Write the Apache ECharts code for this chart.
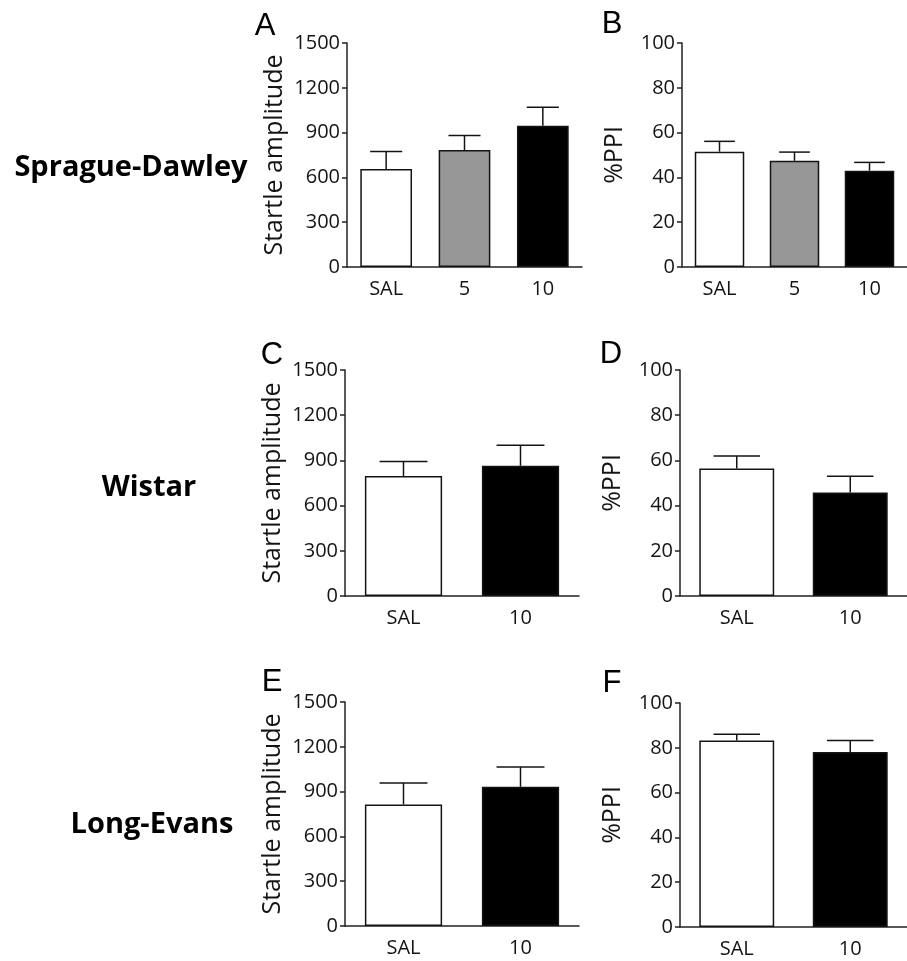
<!DOCTYPE html>
<html>
<head>
<meta charset="utf-8">
<script src="https://cdn.jsdelivr.net/npm/echarts@6/dist/echarts.min.js"></script>
<style>
html,body{margin:0;padding:0;background:#fff;}
#chart{width:907px;height:961px;}
</style>
</head>
<body>
<div id="chart"></div>
<script>
// ---- Data ----
const strains = ['Sprague-Dawley', 'Wistar', 'Long-Evans'];
const panelLetters = ['A', 'B', 'C', 'D', 'E', 'F'];
const catsSD = ['SAL', '5', '10'];
const catsW = ['SAL', '10'];
const catsLE = ['SAL', '10'];
const startleTicks = [0, 300, 600, 900, 1200, 1500];
const ppiTicks = [0, 20, 40, 60, 80, 100];

// A: Sprague-Dawley startle amplitude (mean, SEM)
const startleSD = [656, 783, 946];
const startleSD_sem = [118, 98, 123];
// B: Sprague-Dawley %PPI
const ppiSD = [51.5, 47.4, 43.0];
const ppiSD_sem = [4.6, 3.9, 3.7];
// C: Wistar startle amplitude
const startleW = [796, 864];
const startleW_sem = [97, 136];
// D: Wistar %PPI
const ppiW = [56.4, 45.8];
const ppiW_sem = [5.6, 7.2];
// E: Long-Evans startle amplitude
const startleLE = [814, 932];
const startleLE_sem = [144, 133];
// F: Long-Evans %PPI
const ppiLE = [83.3, 78.1];
const ppiLE_sem = [2.7, 5.2];

// ---- Styles ----
const fillByCat = { 'SAL': '#ffffff', '5': '#979797', '10': '#000000' };
const INK = '#141414';
const AXIS = '#222222';
const FONT = "'Open Sans', sans-serif";

const panels = [
  { cats: catsSD, vals: startleSD, sem: startleSD_sem, ticks: startleTicks, name: 'Startle amplitude', gap: 60,
    grid: { left: 347, top: 43, width: 235, height: 224 } },
  { cats: catsSD, vals: ppiSD, sem: ppiSD_sem, ticks: ppiTicks, name: '%PPI', gap: 55,
    grid: { left: 682, top: 43, width: 240, height: 224 } },
  { cats: catsW, vals: startleW, sem: startleW_sem, ticks: startleTicks, name: 'Startle amplitude', gap: 60,
    grid: { left: 345, top: 370, width: 234, height: 226 } },
  { cats: catsW, vals: ppiW, sem: ppiW_sem, ticks: ppiTicks, name: '%PPI', gap: 55,
    grid: { left: 680, top: 370, width: 236, height: 226 } },
  { cats: catsLE, vals: startleLE, sem: startleLE_sem, ticks: startleTicks, name: 'Startle amplitude', gap: 60,
    grid: { left: 345, top: 702, width: 234, height: 224 } },
  { cats: catsLE, vals: ppiLE, sem: ppiLE_sem, ticks: ppiTicks, name: '%PPI', gap: 55,
    grid: { left: 680, top: 703, width: 240, height: 224 } }
];

const grids = [], xAxes = [], yAxes = [], series = [];
panels.forEach((p, i) => {
  grids.push(Object.assign({ containLabel: false }, p.grid));
  xAxes.push({
    type: 'category', gridIndex: i, data: p.cats,
    axisLine: { lineStyle: { color: AXIS, width: 1.5 } },
    axisTick: { show: false },
    axisLabel: { color: INK, fontFamily: FONT, fontSize: 20, margin: 12 }
  });
  const tmin = p.ticks[0], tmax = p.ticks[p.ticks.length - 1];
  yAxes.push({
    type: 'value', gridIndex: i, min: tmin, max: tmax, interval: p.ticks[1] - p.ticks[0],
    name: p.name, nameLocation: 'middle', nameGap: p.gap,
    nameTextStyle: { color: INK, fontFamily: FONT, fontSize: 25 },
    axisLine: { show: true, lineStyle: { color: AXIS, width: 1.5 } },
    axisTick: { show: true, length: 5, lineStyle: { color: AXIS, width: 1.5 } },
    axisLabel: { color: INK, fontFamily: FONT, fontSize: 20, margin: 7, formatter: v => String(v) },
    splitLine: { show: false }
  });
  series.push({
    type: 'bar', xAxisIndex: i, yAxisIndex: i, barCategoryGap: '34%',
    data: p.vals.map((v, k) => ({
      value: v,
      itemStyle: { color: fillByCat[p.cats[k]], borderColor: INK, borderWidth: 1.5 }
    })),
    z: 2
  });
  series.push({
    type: 'custom', xAxisIndex: i, yAxisIndex: i, z: 3,
    data: p.vals.map((v, k) => [k, v, p.sem[k]]),
    renderItem: function (params, api) {
      const x = api.value(0), m = api.value(1), e = api.value(2);
      const p0 = api.coord([x, m]);
      const p1 = api.coord([x, m + e]);
      const band = api.size([1, 0])[0];
      const hw = band * 0.66 * 0.31;
      const st = { stroke: INK, lineWidth: 1.5 };
      return {
        type: 'group', children: [
          { type: 'line', shape: { x1: p0[0], y1: p0[1], x2: p1[0], y2: p1[1] }, style: st },
          { type: 'line', shape: { x1: p1[0] - hw, y1: p1[1], x2: p1[0] + hw, y2: p1[1] }, style: st }
        ]
      };
    }
  });
});

const letterPos = [[265, 26], [612, 24], [272, 355], [611, 354], [272, 682], [612, 683]];
const strainPos = [[131, 168], [149, 488], [152, 825]];
const graphics = [];
panelLetters.forEach((t, i) => graphics.push({
  type: 'text', x: letterPos[i][0], y: letterPos[i][1],
  style: { text: t, fill: '#000', font: "31px 'Liberation Sans', Arial, sans-serif", textAlign: 'center', textVerticalAlign: 'middle' }
}));
strains.forEach((t, i) => graphics.push({
  type: 'text', x: strainPos[i][0], y: strainPos[i][1],
  style: { text: t, fill: '#000', font: "bold 29px 'Open Sans', sans-serif", textAlign: 'center', textVerticalAlign: 'middle' }
}));

const chart = echarts.init(document.getElementById('chart'), null, { renderer: 'canvas' });
chart.setOption({
  backgroundColor: '#ffffff',
  animation: false,
  grid: grids, xAxis: xAxes, yAxis: yAxes, series: series,
  graphic: graphics
});
</script>
</body>
</html>
